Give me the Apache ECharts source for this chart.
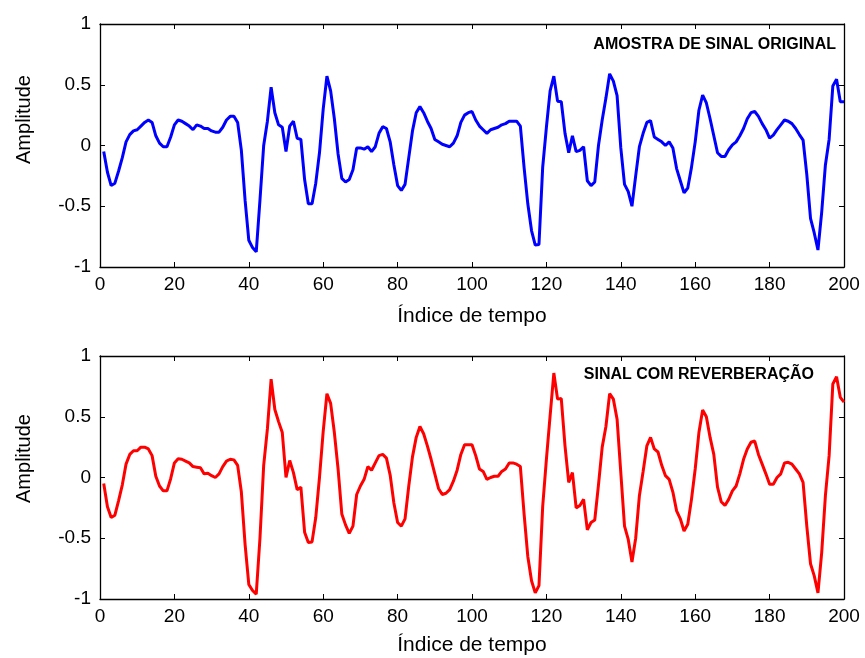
<!DOCTYPE html>
<html><head><meta charset="utf-8">
<script src="https://cdn.jsdelivr.net/npm/echarts@6/dist/echarts.min.js"></script>
<style>html,body{margin:0;padding:0;background:#fff}#c{width:865px;height:658px}</style>
</head><body><div id="c"></div>
<script>
const xTicks = [0,20,40,60,80,100,120,140,160,180,200];
const yTicks = [-1,-0.5,0,0.5,1];
const titles = ['AMOSTRA DE SINAL ORIGINAL','SINAL COM REVERBERAÇÃO'];
const xName = 'Índice de tempo';
const yName = 'Amplitude';
const original = [
-0.05,-0.22,-0.33,-0.31,-0.21,-0.10,0.03,0.09,0.12,0.13,
0.16,0.19,0.21,0.19,0.08,0.02,-0.01,-0.01,0.07,0.17,
0.21,0.20,0.18,0.16,0.13,0.17,0.16,0.14,0.14,0.12,
0.11,0.11,0.15,0.21,0.24,0.24,0.19,-0.04,-0.45,-0.78,
-0.84,-0.875,-0.45,0.00,0.20,0.48,0.27,0.17,0.15,-0.05,
0.16,0.20,0.06,0.05,-0.28,-0.48,-0.48,-0.31,-0.06,0.30,
0.57,0.45,0.22,-0.07,-0.27,-0.30,-0.28,-0.20,-0.02,-0.02,
-0.03,-0.01,-0.05,-0.01,0.10,0.155,0.14,0.03,-0.16,-0.33,
-0.37,-0.32,-0.10,0.12,0.27,0.32,0.27,0.20,0.14,0.05,
0.03,0.01,0.00,-0.01,0.02,0.08,0.19,0.25,0.27,0.28,
0.21,0.16,0.13,0.10,0.13,0.14,0.15,0.17,0.18,0.20,
0.20,0.20,0.16,-0.18,-0.48,-0.70,-0.82,-0.815,-0.18,0.15,
0.45,0.57,0.365,0.36,0.10,-0.06,0.08,-0.05,-0.04,-0.01,
-0.29,-0.33,-0.30,0.00,0.21,0.39,0.59,0.53,0.41,-0.02,
-0.32,-0.38,-0.50,-0.25,-0.01,0.10,0.19,0.205,0.07,0.05,
0.03,0.00,0.03,-0.02,-0.19,-0.29,-0.39,-0.35,-0.18,0.03,
0.29,0.415,0.35,0.22,0.08,-0.06,-0.09,-0.09,-0.035,0.005,
0.03,0.08,0.14,0.22,0.27,0.28,0.24,0.18,0.13,0.06,
0.085,0.13,0.17,0.21,0.20,0.18,0.14,0.09,0.045,-0.24,
-0.60,-0.72,-0.86,-0.55,-0.16,0.05,0.49,0.545,0.36,0.36
];
const reverb = [
-0.05,-0.24,-0.33,-0.31,-0.19,-0.06,0.11,0.19,0.22,0.22,
0.25,0.25,0.235,0.18,0.01,-0.07,-0.11,-0.11,-0.01,0.12,
0.155,0.15,0.135,0.12,0.09,0.085,0.08,0.03,0.035,0.015,
0.00,0.03,0.09,0.135,0.15,0.145,0.10,-0.12,-0.55,-0.88,
-0.93,-0.96,-0.50,0.10,0.40,0.81,0.56,0.46,0.37,0.00,
0.14,0.04,-0.10,-0.08,-0.45,-0.535,-0.53,-0.33,0.00,0.38,
0.69,0.61,0.37,0.07,-0.30,-0.39,-0.46,-0.40,-0.14,-0.07,
-0.015,0.09,0.06,0.12,0.18,0.19,0.16,0.02,-0.21,-0.37,
-0.40,-0.34,-0.07,0.17,0.33,0.42,0.36,0.26,0.15,0.03,
-0.09,-0.14,-0.13,-0.10,-0.03,0.06,0.19,0.27,0.27,0.27,
0.18,0.07,0.05,-0.015,0.00,0.01,0.01,0.05,0.07,0.12,
0.12,0.11,0.09,-0.30,-0.65,-0.85,-0.95,-0.89,-0.24,0.15,
0.51,0.86,0.645,0.65,0.26,-0.04,0.04,-0.25,-0.23,-0.18,
-0.43,-0.37,-0.35,-0.06,0.25,0.42,0.69,0.645,0.48,0.04,
-0.40,-0.51,-0.695,-0.50,-0.15,0.05,0.26,0.33,0.235,0.21,
0.10,0.015,-0.015,-0.12,-0.275,-0.34,-0.44,-0.385,-0.18,0.07,
0.37,0.555,0.50,0.33,0.19,-0.08,-0.20,-0.23,-0.18,-0.11,
-0.07,0.03,0.15,0.235,0.29,0.30,0.19,0.11,0.03,-0.055,
-0.055,0.00,0.03,0.12,0.125,0.11,0.07,0.03,-0.04,-0.40,
-0.71,-0.81,-0.95,-0.62,-0.15,0.18,0.77,0.83,0.66,0.62
];
const FONT = "'Liberation Sans',Arial,sans-serif";
const grids = [
  {left:100, right:21, top:24, bottom:391},
  {left:100, right:21, top:356, bottom:59}
];
const namePad = [[0,0,0,52],[0,0,0,38]];
const xNameGap = [39, 36];
const xAxes = [], yAxes = [], series = [];
grids.forEach((g,i)=>{
  const tick = {show:true, inside:true, length:5, lineStyle:{color:'#000',width:1}};
  const line = {show:true, onZero:false, lineStyle:{color:'#000',width:1.3}};
  xAxes.push({gridIndex:i, type:'value', min:0, max:200, interval:20, position:'bottom',
    axisLine:line, axisTick:tick, splitLine:{show:false},
    axisLabel:{color:'#000', fontSize:19, fontFamily:FONT, margin:8, formatter:v=>String(v)},
    name:xName, nameLocation:'middle', nameGap:xNameGap[i],
    nameTextStyle:{color:'#000', fontSize:21, fontFamily:FONT}});
  xAxes.push({gridIndex:i, type:'value', min:0, max:200, interval:20, position:'top',
    axisLine:line, axisTick:tick, splitLine:{show:false}, axisLabel:{show:false}});
  yAxes.push({gridIndex:i, type:'value', min:-1, max:1, interval:0.5, position:'left',
    axisLine:line, axisTick:tick, splitLine:{show:false},
    axisLabel:{color:'#000', fontSize:19, fontFamily:FONT, margin:9, formatter:v=>String(v)},
    name:yName, nameLocation:'middle', nameGap:66, nameRotate:90,
    nameTextStyle:{color:'#000', fontSize:20, fontFamily:FONT, padding:namePad[i]}});
  yAxes.push({gridIndex:i, type:'value', min:-1, max:1, interval:0.5, position:'right',
    axisLine:line, axisTick:tick, splitLine:{show:false}, axisLabel:{show:false}});
});
const datasets = [original, reverb];
const colors = ['#0000ff', '#ff0000'];
datasets.forEach((d,i)=>{
  series.push({type:'line', xAxisIndex:2*i, yAxisIndex:2*i, showSymbol:false, symbol:'none',
    data:d.map((v,k)=>[k+1,v]), lineStyle:{color:colors[i], width:3}, itemStyle:{color:colors[i]},
    animation:false});
});
const chart = echarts.init(document.getElementById('c'), null, {renderer:'canvas'});
chart.setOption({
  animation:false,
  backgroundColor:'#fff',
  title:[
    {text:titles[0], right:29, top:37, padding:0, textStyle:{fontSize:16, fontWeight:'bold', color:'#000', fontFamily:FONT}},
    {text:titles[1], right:51, top:367, padding:0, textStyle:{fontSize:16, fontWeight:'bold', color:'#000', fontFamily:FONT}}
  ],
  grid:grids, xAxis:xAxes, yAxis:yAxes, series:series
});
</script></body></html>
